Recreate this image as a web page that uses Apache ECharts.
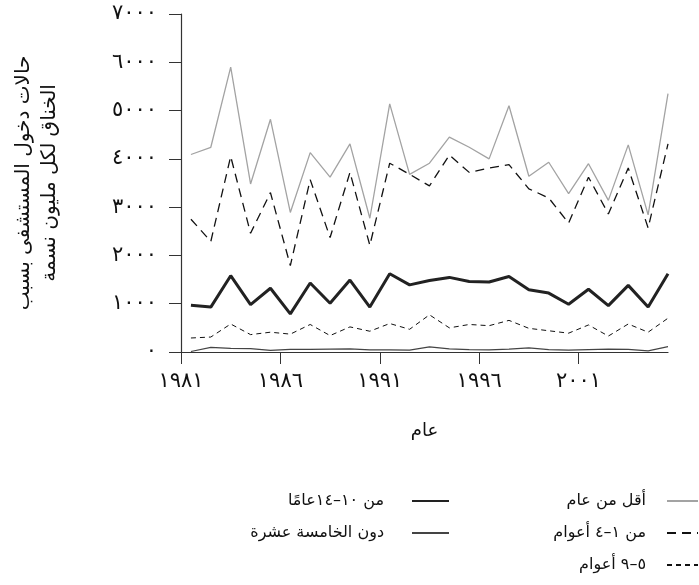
<!DOCTYPE html>
<html><head><meta charset="utf-8">
<script src="https://cdn.jsdelivr.net/npm/echarts@6/dist/echarts.min.js"></script>
<style>html,body{margin:0;padding:0;background:#fff}#c{width:699px;height:585px}</style>
</head><body><div id="c"></div>
<script>
const years = [1981,1982,1983,1984,1985,1986,1987,1988,1989,1990,1991,1992,1993,1994,1995,1996,1997,1998,1999,2000,2001,2002,2003,2004,2005];
const under1 = [4090,4240,5900,3480,4820,2890,4130,3620,4310,2770,5140,3680,3910,4450,4240,4000,5100,3640,3930,3280,3900,3140,4290,2840,5350];
const age1to4 = [2750,2290,4050,2460,3300,1790,3570,2370,3720,2210,3910,3680,3440,4080,3720,3810,3880,3380,3190,2670,3620,2860,3810,2570,4310];
const age5to9 = [290,310,580,360,410,370,570,340,520,430,590,470,770,500,570,545,655,490,440,390,560,330,580,410,700];
const age10to14 = [970,930,1580,980,1320,790,1430,1010,1490,930,1620,1390,1480,1545,1460,1450,1565,1290,1220,990,1300,960,1380,930,1620];
const under15 = [10,95,75,70,35,55,55,60,65,45,45,40,105,65,50,45,60,85,50,40,50,60,55,25,110];
const xTicks = [1981,1986,1991,1996,2001];
const seriesNames = ['أقل من عام','من ١–٤ أعوام','٥–٩ أعوام','من ١٠–١٤عامًا','دون الخامسة عشرة'];
const yTitle = 'حالات دخول المستشفى بسبب\nالخناق لكل مليون نسمة';
const xTitle = 'عام';

const ar = n => String(n).replace(/[0-9]/g, d => '٠١٢٣٤٥٦٧٨٩'[d]);
const pts = arr => arr.map((v,i) => [years[i] + 0.5, v]);
const FONT = 'DejaVu Sans';

const styles = [
  {color:'#a3a3a3', width:1.3, type:'solid'},
  {color:'#111', width:1.3, type:[9,6]},
  {color:'#111', width:1, type:[5,4]},
  {color:'#222', width:3, type:'solid'},
  {color:'#444', width:1.2, type:'solid'}
];
const datas = [under1, age1to4, age5to9, age10to14, under15];

const chart = echarts.init(document.getElementById('c'));
chart.setOption({
  animation:false,
  backgroundColor:'#fff',
  textStyle:{fontFamily:FONT},
  grid:{left:181, right:31, top:14, bottom:233},
  xAxis:{type:'value', min:1981, max:2005.5,
    axisLine:{onZero:false, lineStyle:{color:'#333', width:1.2}},
    axisTick:{length:12, lineStyle:{color:'#333'}, customValues:xTicks},
    axisLabel:{customValues:xTicks, formatter:v=>ar(v), fontSize:21, color:'#111', margin:19, fontFamily:FONT},
    splitLine:{show:false},
    name:xTitle, nameLocation:'middle', nameGap:70, nameTextStyle:{fontSize:18, color:'#111', fontFamily:FONT}
  },
  yAxis:{type:'value', min:0, max:7000, interval:1000,
    axisLine:{show:true, lineStyle:{color:'#333', width:1.2}},
    axisTick:{show:true, length:12, lineStyle:{color:'#333'}},
    axisLabel:{formatter:v=>ar(v), fontSize:21, color:'#111', margin:24, fontFamily:FONT},
    splitLine:{show:false},
    name:yTitle, nameLocation:'middle', nameGap:118, nameTextStyle:{fontSize:20, color:'#111', lineHeight:26, fontFamily:FONT}
  },
  legend:[
    {data:seriesNames.slice(0,3), orient:'vertical', right:0, top:493, align:'right', padding:0, itemWidth:31, itemHeight:12, itemGap:16,
     itemStyle:{opacity:0},
     textStyle:{fontSize:16, color:'#111', padding:[0,16,0,0], fontFamily:FONT}},
    {data:seriesNames.slice(3), orient:'vertical', right:249, top:493, align:'right', padding:0, itemWidth:37, itemHeight:12, itemGap:16,
     itemStyle:{opacity:0},
     textStyle:{fontSize:16, color:'#111', padding:[0,23,0,0], fontFamily:FONT}}
  ],
  series: datas.map((d,i)=>({
    name:seriesNames[i], type:'line', data:pts(d), symbol:'none', showSymbol:false,
    z: 10 - i,
    lineStyle:{color:styles[i].color, width:styles[i].width, type:styles[i].type},
    itemStyle:{color:styles[i].color}
  }))
});
</script></body></html>
